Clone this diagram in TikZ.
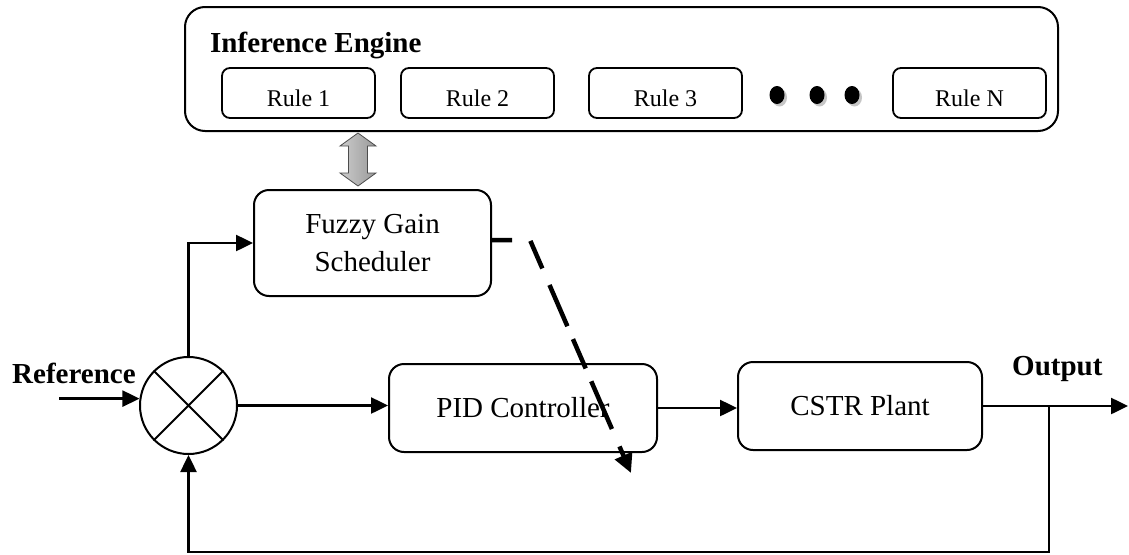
\documentclass[tikz,border=0pt]{standalone}
\usepackage{fontspec}
\setmainfont{Liberation Serif}
\usetikzlibrary{arrows.meta,calc}
\begin{document}
\begin{tikzpicture}[x=1pt,y=-1pt,
  box/.style={draw, line width=2pt, rounded corners=15pt, inner sep=0pt,
    font=\fontsize{29}{38}\selectfont, align=center},
  rulebox/.style={draw, line width=1.8pt, rounded corners=8pt, minimum width=153pt,
    minimum height=50pt, inner sep=0pt, text height=26pt, text depth=0pt,
    font=\fontsize{24}{28}\selectfont},
  lbl/.style={font=\fontsize{29}{34}\selectfont\bfseries, inner sep=0pt},
  sig/.style={line width=2.5pt, -{Triangle[length=17pt,width=16pt]}},
  dashsig/.style={line width=4.5pt,
    dash pattern=on 20pt off 19pt on 30pt off 18pt on 45pt off 14pt on 32pt off 14pt on 52pt off 19pt on 30pt off 19pt,
    -{Triangle[length=19pt,width=18pt]}},
]
\useasboundingbox (0,0) rectangle (1129,554);

% Inference engine
\node[draw, line width=2pt, rounded corners=20pt, minimum width=873pt,
      minimum height=124pt, inner sep=0pt] (engine) at (621.5,69) {};
\node[lbl, anchor=base west] (title) at (210,52) {Inference Engine};
\node[rulebox] (r1) at (298.5,93) {Rule 1};
\node[rulebox] (r2) at (477.5,93) {Rule 2};
\node[rulebox] (r3) at (665.5,93) {Rule 3};
\node[rulebox] (rn) at (969.5,93) {Rule N};
\foreach \cx in {777,817,852}{
  \fill[gray!45] (\cx+2.5,97.5) ellipse [x radius=7.5pt, y radius=9pt];
  \fill[black] (\cx,95) ellipse [x radius=7.5pt, y radius=9pt];
}

% double arrow between engine and scheduler
\shade[left color=gray!40, right color=gray!80, draw=gray!60!black, line width=0.8pt]
  (358,133) -- (376,146) -- (367.5,146) -- (367.5,173) -- (376,173) -- (358,186)
  -- (340,173) -- (348.5,173) -- (348.5,146) -- (340,146) -- cycle;

% blocks
\node[box, minimum width=237pt, minimum height=106pt] (fgs) at (372.5,243) {Fuzzy Gain\\Scheduler};
\node[circle, draw, line width=2pt, minimum size=97pt, inner sep=0pt] (sum) at (188.5,405.5) {};
\draw[line width=2pt] (sum.45) -- (sum.225) (sum.135) -- (sum.315);
\node[box, minimum width=268pt, minimum height=88pt] (pid) at (523,408) {PID Controller};
\node[box, minimum width=244pt, minimum height=88pt] (cstr) at (860,406) {CSTR Plant};

% labels
\node[lbl, anchor=base west] (reflbl) at (12,383) {Reference};
\node[lbl, anchor=base west] (outlbl) at (1012,375) {Output};

% connectors
\coordinate (refin) at ([xshift=-80pt]sum.172);
\draw[sig] (refin) -- (sum.172);
\draw[sig] (sum.north) |- (fgs.west);
\draw[sig] (sum.east) -- (sum.east -| pid.west);
\draw[sig] (pid.east) -- (pid.east -| cstr.west);
\coordinate (outend) at (1128,406);
\draw[sig] (cstr.east) -- (outend);
\coordinate (tap) at (1049,406);
\coordinate (fbcorner) at (1049,552);
\draw[sig] (tap) -- (fbcorner) -| (sum.south);

% dashed gain-adjust arrow
\coordinate (dbend) at (530,240);
\coordinate (dtip) at (631,473);
\draw[dashsig] (fgs.east |- dbend) -- (dbend) -- (dtip);
\end{tikzpicture}
\end{document}
